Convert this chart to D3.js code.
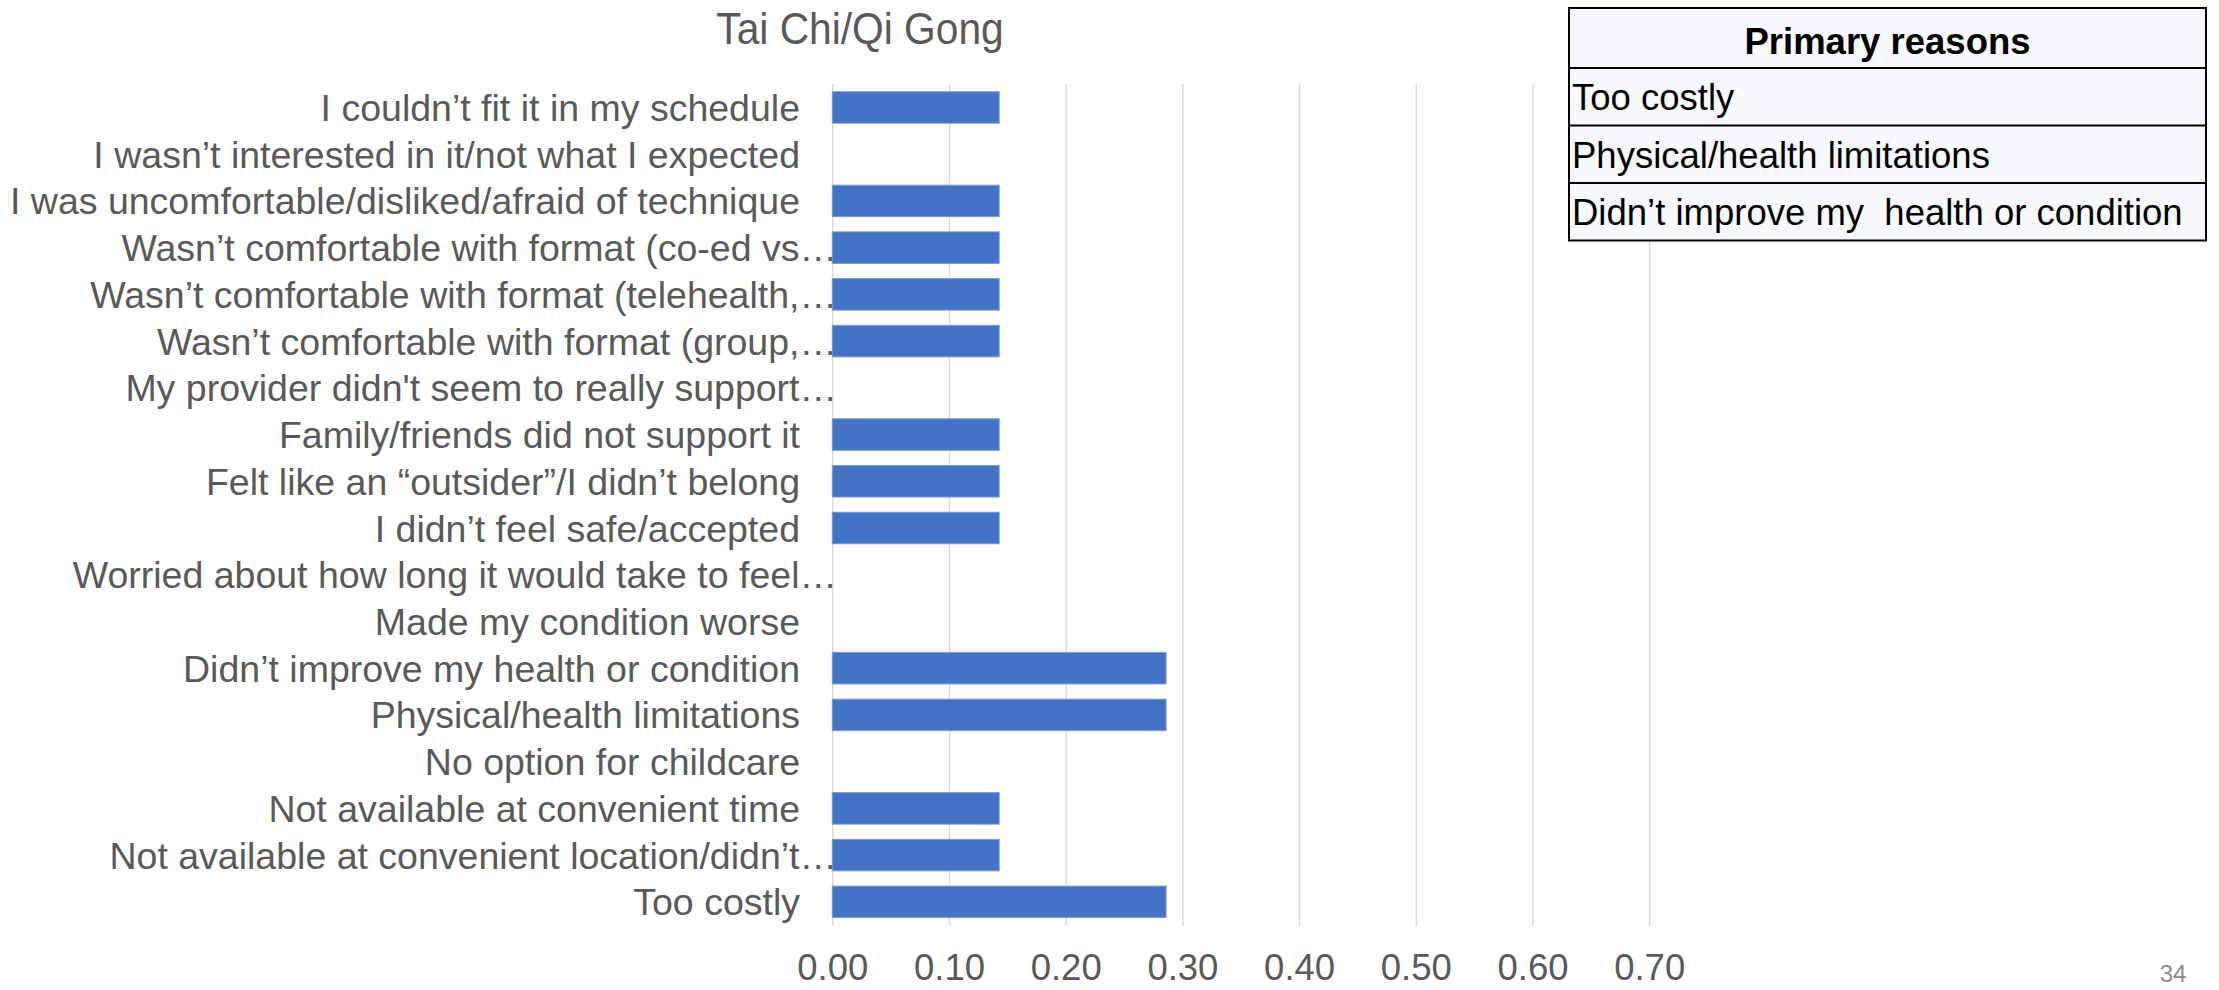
<!DOCTYPE html>
<html>
<head>
<meta charset="utf-8">
<script src="https://cdn.jsdelivr.net/npm/d3@7"></script>
<style>
  body { margin: 0; background: #ffffff; }
  svg { display: block; }
  text { font-family: "Liberation Sans", Arial, sans-serif; }
</style>
</head>
<body>
<svg id="chart" width="2219" height="990"></svg>
<script>
// Reasons for stopping, listed top to bottom as they appear on the chart
const categories = [
  "I couldn’t fit it in my schedule",
  "I wasn’t interested in it/not what I expected",
  "I was uncomfortable/disliked/afraid of technique",
  "Wasn’t comfortable with format (co-ed vs…",
  "Wasn’t comfortable with format (telehealth,…",
  "Wasn’t comfortable with format (group,…",
  "My provider didn't seem to really support…",
  "Family/friends did not support it",
  "Felt like an “outsider”/I didn’t belong",
  "I didn’t feel safe/accepted",
  "Worried about how long it would take to feel…",
  "Made my condition worse",
  "Didn’t improve my health or condition",
  "Physical/health limitations",
  "No option for childcare",
  "Not available at convenient time",
  "Not available at convenient location/didn’t…",
  "Too costly"
];

// Share of respondents selecting each reason
const shares = [
  0.143, 0, 0.143, 0.143, 0.143, 0.143, 0, 0.143, 0.143, 0.143,
  0, 0, 0.286, 0.286, 0, 0.143, 0.143, 0.286
];

const tickValues = [0, 0.1, 0.2, 0.3, 0.4, 0.5, 0.6, 0.7];
const tickLabels = ["0.00", "0.10", "0.20", "0.30", "0.40", "0.50", "0.60", "0.70"];

const chartTitle = "Tai Chi/Qi Gong";
const reasonsHeader = "Primary reasons";
const primaryReasons = [
  "Too costly",
  "Physical/health limitations",
  "Didn’t improve my  health or condition"
];
const pageNumber = "34";

const svg = d3.select("#chart");

const plotTop = 84, plotBottom = 926;
const x = d3.scaleLinear().domain([0, 0.7]).range([832.3, 1649.2]);
const y = d3.scaleBand()
  .domain(categories)
  .range([84.1, 925.2])
  .paddingInner(0.326)
  .paddingOuter(0.163);

// Title
svg.append("text")
  .attr("transform", "translate(860,44) scale(0.905,1)")
  .attr("text-anchor", "middle")
  .attr("font-size", 45)
  .attr("fill", "#595959")
  .text(chartTitle);

// Vertical gridlines
svg.append("g")
  .attr("transform", `translate(0,${plotBottom})`)
  .call(d3.axisBottom(x).tickValues(tickValues).tickSize(-(plotBottom - plotTop)).tickFormat(""))
  .call(g => g.select(".domain").remove())
  .call(g => g.selectAll(".tick line").attr("stroke", "#d9d9d9").attr("stroke-width", 1.4));

// Bars
svg.append("g")
  .selectAll("rect")
  .data(categories.map((c, i) => ({ c, v: shares[i] })).filter(d => d.v > 0))
  .join("rect")
  .attr("x", x(0))
  .attr("y", d => y(d.c))
  .attr("width", d => x(d.v) - x(0))
  .attr("height", y.bandwidth())
  .attr("fill", "#4472c4")
  .attr("stroke", "#7a9bd6")
  .attr("stroke-width", 1);

// Category labels
svg.append("g")
  .selectAll("text")
  .data(categories)
  .join("text")
  .attr("x", d => d.endsWith("…") ? 837 : 800)
  .attr("y", d => y(d) + y.bandwidth() / 2)
  .attr("dy", "0.36em")
  .attr("text-anchor", "end")
  .attr("font-size", 37.5)
  .attr("fill", "#595959")
  .text(d => d);

// Value axis labels
svg.append("g")
  .attr("transform", `translate(0,${plotBottom})`)
  .call(d3.axisBottom(x).tickValues(tickValues).tickSize(0).tickPadding(28)
    .tickFormat((d, i) => tickLabels[i]))
  .call(g => g.select(".domain").remove())
  .call(g => g.selectAll(".tick text")
    .attr("font-family", "Liberation Sans, Arial, sans-serif")
    .attr("font-size", 36.5)
    .attr("fill", "#595959"));

// Primary reasons table
const tbl = { x: 1569, w: 637, top: 8, headerH: 60, rowH: 57.5 };
const tg = svg.append("g");
const rowsY = [tbl.top, tbl.top + tbl.headerH];
primaryReasons.forEach((_, i) => rowsY.push(tbl.top + tbl.headerH + tbl.rowH * (i + 1)));
tg.append("rect")
  .attr("x", tbl.x).attr("y", tbl.top)
  .attr("width", tbl.w).attr("height", rowsY[rowsY.length - 1] - tbl.top)
  .attr("fill", "#f8f9fd")
  .attr("stroke", "#000").attr("stroke-width", 2);
tg.selectAll("line")
  .data(rowsY.slice(1, -1))
  .join("line")
  .attr("x1", tbl.x).attr("x2", tbl.x + tbl.w)
  .attr("y1", d => d).attr("y2", d => d)
  .attr("stroke", "#000").attr("stroke-width", 2);
tg.append("text")
  .attr("x", tbl.x + tbl.w / 2)
  .attr("y", tbl.top + 46)
  .attr("text-anchor", "middle")
  .attr("font-size", 36.5)
  .attr("font-weight", "bold")
  .attr("fill", "#000")
  .text(reasonsHeader);
tg.selectAll("text.reason")
  .data(primaryReasons)
  .join("text")
  .attr("class", "reason")
  .attr("x", tbl.x + 3)
  .attr("y", (d, i) => rowsY[i + 1] + 42)
  .attr("font-size", 36.5)
  .attr("fill", "#000")
  .style("white-space", "pre")
  .text(d => d);

// Page number
svg.append("text")
  .attr("x", 2173)
  .attr("y", 982)
  .attr("text-anchor", "middle")
  .attr("font-family", "Open Sans, sans-serif")
  .attr("font-size", 24)
  .attr("fill", "#8c8c8c")
  .text(pageNumber);
</script>
</body>
</html>
